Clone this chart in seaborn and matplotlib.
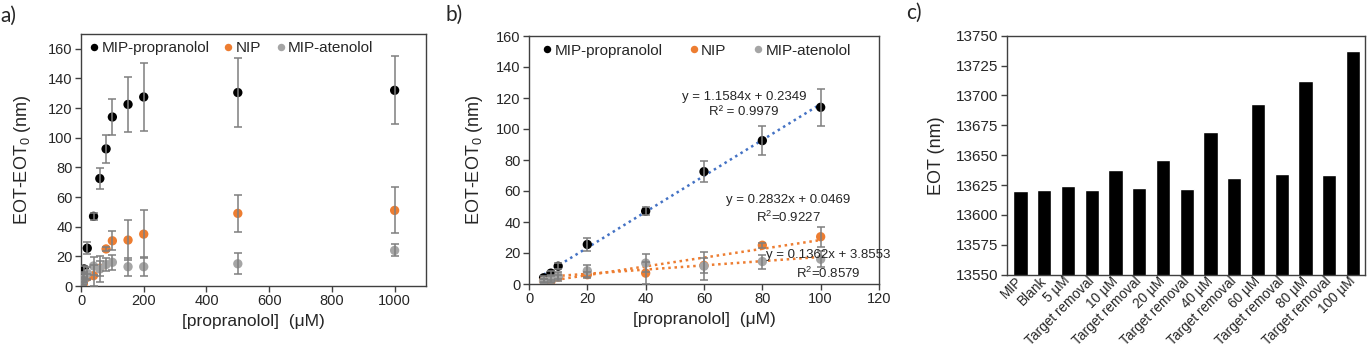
import numpy as np
import pandas as pd
import matplotlib
matplotlib.use("Agg")
import matplotlib.pyplot as plt
import seaborn as sns

sns.set_style("white")
plt.rcParams["font.family"] = ["Liberation Sans", "DejaVu Sans"]
plt.rcParams["mathtext.fontset"] = "custom"
plt.rcParams["mathtext.rm"] = "Liberation Sans"
plt.rcParams["mathtext.it"] = "Liberation Sans:italic"

# Binding isotherm data: concentration (µM) vs EOT shift (nm), mean ± SD
conc = [5, 7.5, 10, 20, 40, 60, 80, 100, 150, 200, 500, 1000]
mip_prop = [4.0, 7.0, 11.5, 25.5, 47.0, 72.5, 92.5, 114.0, 122.5, 127.5, 130.5, 132.0]
mip_prop_err = [1.0, 1.5, 2.0, 4.0, 2.5, 7.0, 9.5, 12.0, 18.5, 23.0, 23.0, 23.0]
nip = [2.0, 1.5, 4.5, 6.0, 7.0, 12.0, 25.0, 30.5, 31.0, 35.0, 49.0, 51.0]
nip_err = [1.0, 1.0, 1.5, 2.0, 7.0, 5.0, 1.5, 6.5, 13.5, 16.0, 12.5, 15.5]
mip_aten = [2.0, 3.0, 5.0, 8.5, 13.5, 11.5, 14.5, 16.0, 13.0, 13.0, 15.0, 24.0]
mip_aten_err = [1.5, 2.0, 3.0, 4.0, 6.0, 9.0, 4.5, 5.0, 6.0, 6.5, 7.0, 4.0]

series_names = ["MIP-propranolol", "NIP", "MIP-atenolol"]
series_vals = [mip_prop, nip, mip_aten]
series_errs = [mip_prop_err, nip_err, mip_aten_err]
series_colors = ["#000000", "#ED7D31", "#A5A5A5"]

# Linear fits in the 5–100 µM range: slope, intercept, label, colour, label position
fits = [
    (1.1584, 0.2349, "y = 1.1584x + 0.2349\nR² = 0.9979", "#4472C4", 73.7, 116.0),
    (0.2832, 0.0469, "y = 0.2832x + 0.0469\nR$^2$=0.9227", "#ED7D31", 89.0, 48.0),
    (0.1362, 3.8553, "y = 0.1362x + 3.8553\nR$^2$=0.8579", "#ED7D31", 102.6, 12.2),
]

# Sensor response sequence
bar_labels = ["MIP", "Blank", "5 µM", "Target removal", "10 µM", "Target removal",
              "20 µM", "Target removal", "40 µM", "Target removal", "60 µM",
              "Target removal", "80 µM", "Target removal", "100 µM"]
bar_eot = [13620, 13620.5, 13624, 13620.5, 13638, 13622.5, 13646, 13621.5,
           13669.5, 13631, 13693, 13634, 13712.5, 13633.5, 13737]

W, H = 1367, 346
fig = plt.figure(figsize=(W / 100, H / 100), dpi=100)
ax_a = fig.add_axes([81 / W, 1 - 286 / H, 345 / W, 252 / H])
ax_b = fig.add_axes([529 / W, 1 - 284 / H, 350 / W, 248 / H])
ax_c = fig.add_axes([1007 / W, 1 - 274.7 / H, 358 / W, 239 / H])

spine_col = "#404040"
tick_fs = 10.5


def style_axes(ax, fs=tick_fs):
    for s in ax.spines.values():
        s.set_visible(True)
        s.set_color(spine_col)
        s.set_linewidth(1.0)
    ax.tick_params(axis="both", direction="out", length=4, width=1.0,
                   color=spine_col, labelsize=fs, pad=2,
                   bottom=True, left=True)


def draw_scatter(ax, n):
    frames = []
    for name, vals in zip(series_names, series_vals):
        frames.append(pd.DataFrame({"x": conc[:n], "y": vals[:n], "series": name}))
    df = pd.concat(frames, ignore_index=True)
    sns.scatterplot(data=df, x="x", y="y", hue="series", hue_order=series_names,
                    palette=series_colors, s=45, edgecolor="none", ax=ax,
                    zorder=3, legend=True)
    for vals, errs in zip(series_vals, series_errs):
        ax.errorbar(conc[:n], vals[:n], yerr=errs[:n], fmt="none",
                    ecolor="#7F7F7F", elinewidth=1.1, capsize=3, capthick=1.1,
                    zorder=4)


def place_legend(ax, anchor, spacing):
    return ax.legend(loc="upper left", bbox_to_anchor=anchor, ncol=3, frameon=False,
                     fontsize=11, handlelength=0.5, handletextpad=0.25,
                     columnspacing=spacing, borderaxespad=0, markerscale=0.8)


# Panel a: full isotherm
draw_scatter(ax_a, len(conc))
ax_a.set_xlim(0, 1100)
ax_a.set_ylim(0, 170)
ax_a.set_xticks(range(0, 1001, 200))
ax_a.set_yticks(range(0, 161, 20))
ax_a.set_xlabel("[propranolol]  (μM)", fontsize=12.5, labelpad=4)
ax_a.set_ylabel("EOT-EOT$_0$ (nm)", fontsize=13, labelpad=11)
style_axes(ax_a)
place_legend(ax_a, (0.008, 0.997), 1.0)

# Panel b: linear range with fitted lines
draw_scatter(ax_b, 8)
xfit = np.array([conc[0], conc[7]])
for slope, icpt, text, col, tx, ty in fits:
    sns.lineplot(x=xfit, y=slope * xfit + icpt, color=col, linestyle=(0, (1, 1.5)),
                 linewidth=1.8, ax=ax_b, zorder=2)
    ax_b.text(tx, ty, text, ha="center", va="center", fontsize=9.5,
              linespacing=1.35, zorder=5)
ax_b.set_xlim(0, 120)
ax_b.set_ylim(0, 160)
ax_b.set_xticks(range(0, 121, 20))
ax_b.set_yticks(range(0, 161, 20))
ax_b.set_xlabel("[propranolol]  (μM)", fontsize=12.5, labelpad=4)
ax_b.set_ylabel("EOT-EOT$_0$ (nm)", fontsize=13, labelpad=8)
style_axes(ax_b)
place_legend(ax_b, (0.022, 0.994), 1.8)

# Panel c: EOT through the binding / regeneration cycle
sns.barplot(x=list(range(len(bar_labels))), y=bar_eot, color="black", width=0.6,
            ax=ax_c, saturation=1)
ax_c.set_ylim(13550, 13750)
ax_c.set_xlim(-0.57, 14.5)
ax_c.set_yticks(range(13550, 13751, 25))
ax_c.set_xticks(range(len(bar_labels)))
ax_c.set_ylabel("EOT (nm)", fontsize=13, labelpad=8)
style_axes(ax_c, fs=11)
ax_c.set_xticklabels(bar_labels, rotation=45, ha="right", va="center",
                     rotation_mode="anchor")
ax_c.tick_params(axis="x", length=0, pad=3, labelsize=9.8)

# Panel letters
for x, y, s in [(0, 16, "a)"), (446, 15, "b)"), (906, 13, "c)")]:
    fig.text(x / W, 1 - y / H, s, fontsize=15, family="Lato", va="center", ha="left")

fig.savefig("out.png", dpi=100)
